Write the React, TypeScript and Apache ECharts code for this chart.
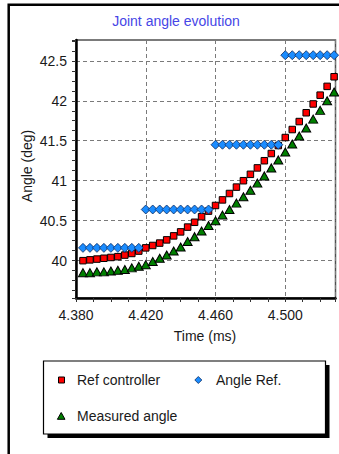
import React, { useEffect, useRef } from "react";
import * as echarts from "echarts";

// ---- data ----
const timeMs = [
  4.384, 4.388, 4.392, 4.396, 4.4, 4.404, 4.408, 4.412, 4.416,
  4.42, 4.424, 4.428, 4.432, 4.436, 4.44, 4.444, 4.448, 4.452, 4.456,
  4.46, 4.464, 4.468, 4.472, 4.476, 4.48, 4.484, 4.488, 4.492, 4.496,
  4.5, 4.504, 4.508, 4.512, 4.516, 4.52, 4.524, 4.528,
];
const refController = [
  40.0, 40.01, 40.02, 40.03, 40.04, 40.05, 40.07, 40.09, 40.12,
  40.16, 40.19, 40.22, 40.26, 40.31, 40.36, 40.42, 40.48, 40.55, 40.62,
  40.69, 40.76, 40.84, 40.92, 41.0, 41.08, 41.16, 41.25, 41.34, 41.44,
  41.54, 41.64, 41.74, 41.85, 41.96, 42.07, 42.18, 42.3,
];
const angleRef = [
  40.16, 40.16, 40.16, 40.16, 40.16, 40.16, 40.16, 40.16, 40.16,
  40.64, 40.64, 40.64, 40.64, 40.64, 40.64, 40.64, 40.64, 40.64, 40.64,
  41.45, 41.45, 41.45, 41.45, 41.45, 41.45, 41.45, 41.45, 41.45, 41.45,
  42.57, 42.57, 42.57, 42.57, 42.57, 42.57, 42.57, 42.57,
];
const measuredAngle = [
  39.85, 39.85, 39.86, 39.86, 39.87, 39.88, 39.89, 39.91, 39.93,
  39.95, 39.99, 40.03, 40.07, 40.12, 40.17, 40.24, 40.3, 40.37, 40.44,
  40.5, 40.57, 40.64, 40.72, 40.8, 40.88, 40.97, 41.06, 41.16, 41.26,
  41.36, 41.46, 41.56, 41.66, 41.77, 41.88, 42.0, 42.11,
];
const seriesNames = ["Ref controller", "Angle Ref.", "Measured angle"];
const titleText = "Joint angle evolution";
const xAxisName = "Time (ms)";
const yAxisName = "Angle (deg)";
const xStart = 4.38; // first x tick label
const xEnd = 4.5288;
const xTickStep = 0.04;
const yMin = 39.533;
const yMax = 42.76;

const FONT = "'Liberation Sans', Arial, sans-serif";
const RED = "#ff0000";
const BLUE = "#1a8cff";
const GREEN = "#008000";

export default function App() {
  const ref = useRef<HTMLDivElement>(null);
  useEffect(() => {
    if (!ref.current) return;
    const chart = echarts.init(ref.current, undefined, { renderer: "svg" });
    const toPts = (vals: number[]) => timeMs.map((t, i) => [t - xStart, vals[i]]);
    chart.setOption({
      animation: false,
      backgroundColor: "#ffffff",
      grid: {
        left: 76,
        right: 3.5,
        top: 40,
        bottom: 156,
        show: true,
        borderColor: "#505050",
        borderWidth: 1.5,
        backgroundColor: "transparent",
      },
      xAxis: {
        type: "value",
        min: 0,
        max: xEnd - xStart,
        interval: xTickStep,
        axisLine: { show: true, onZero: false, lineStyle: { color: "#000", width: 2.5 } },
        axisTick: { show: true, length: 4, lineStyle: { color: "#333" } },
        minorTick: { show: true, splitNumber: 4, length: 4, lineStyle: { color: "#333" } },
        axisLabel: {
          showMaxLabel: false,
          margin: 10,
          color: "#1a1a1a",
          fontSize: 14,
          fontFamily: FONT,
          formatter: (v: number) => (v + xStart).toFixed(3),
        },
        splitLine: { show: true, lineStyle: { color: "#7a7a7a", type: [4, 3], width: 1 } },
      },
      yAxis: {
        type: "value",
        min: yMin,
        max: yMax,
        splitNumber: 5,
        axisLine: { show: true, onZero: false, lineStyle: { color: "#000", width: 2.5 } },
        axisTick: { show: true, length: 4, lineStyle: { color: "#333" } },
        minorTick: { show: true, splitNumber: 4, length: 4, lineStyle: { color: "#333" } },
        axisLabel: {
          showMinLabel: false,
          showMaxLabel: false,
          margin: 9,
          color: "#1a1a1a",
          fontSize: 14,
          fontFamily: FONT,
          formatter: (v: number) => String(Math.round(v * 10) / 10),
        },
        splitLine: { show: true, lineStyle: { color: "#7a7a7a", type: [4, 3], width: 1 } },
      },
      series: [
        {
          type: "scatter",
          name: seriesNames[0],
          symbol: "rect",
          symbolSize: 6.5,
          itemStyle: { color: RED, borderColor: "#000", borderWidth: 1, opacity: 1 },
          data: toPts(refController),
          z: 3,
        },
        {
          type: "scatter",
          name: seriesNames[1],
          symbol: "diamond",
          symbolSize: [9, 9],
          itemStyle: { color: BLUE, borderColor: "#0a2a60", borderWidth: 0.8, opacity: 1 },
          data: toPts(angleRef),
          z: 4,
        },
        {
          type: "scatter",
          name: seriesNames[2],
          symbol: "triangle",
          symbolSize: [9, 8],
          itemStyle: { color: GREEN, borderColor: "#000", borderWidth: 1, opacity: 1 },
          data: toPts(measuredAngle),
          z: 3,
        },
      ],
      graphic: [
        {
          type: "rect",
          shape: { x: 8.7, y: 4.7, width: 400, height: 500 },
          style: { fill: "none", stroke: "#000", lineWidth: 2.5 },
          silent: true,
        },
        {
          type: "text",
          x: 176,
          y: 21,
          style: {
            text: titleText,
            fill: "#4646e6",
            font: `14px ${FONT}`,
            textAlign: "center",
            textVerticalAlign: "middle",
          },
        },
        {
          type: "text",
          x: 205,
          y: 336,
          style: {
            text: xAxisName,
            fill: "#1a1a1a",
            font: `14px ${FONT}`,
            textAlign: "center",
            textVerticalAlign: "middle",
          },
        },
        {
          type: "text",
          x: 27,
          y: 166,
          rotation: Math.PI / 2,
          style: {
            text: yAxisName,
            fill: "#1a1a1a",
            font: `14px ${FONT}`,
            textAlign: "center",
            textVerticalAlign: "middle",
          },
        },
        // legend box with shadow
        {
          type: "rect",
          shape: { x: 47.5, y: 365, width: 282, height: 73 },
          style: { fill: "#000" },
          silent: true,
        },
        {
          type: "rect",
          shape: { x: 43.5, y: 361, width: 282, height: 73 },
          style: { fill: "#fff", stroke: "#000", lineWidth: 1.2 },
          silent: true,
        },
        {
          type: "rect",
          shape: { x: 58.5, y: 377, width: 6, height: 6 },
          style: { fill: RED, stroke: "#000", lineWidth: 1 },
        },
        {
          type: "text",
          x: 77,
          y: 380,
          style: { text: seriesNames[0], fill: "#1a1a1a", font: `14px ${FONT}`, textVerticalAlign: "middle" },
        },
        {
          type: "polygon",
          shape: { points: [[198.3, 376.5], [201.8, 380], [198.3, 383.5], [194.8, 380]] },
          style: { fill: BLUE, stroke: "#0a2a60", lineWidth: 0.8 },
        },
        {
          type: "text",
          x: 216,
          y: 380,
          style: { text: seriesNames[1], fill: "#1a1a1a", font: `14px ${FONT}`, textVerticalAlign: "middle" },
        },
        {
          type: "polygon",
          shape: { points: [[61.2, 412.5], [65, 419.3], [57.4, 419.3]] },
          style: { fill: GREEN, stroke: "#000", lineWidth: 1 },
        },
        {
          type: "text",
          x: 77,
          y: 416,
          style: { text: seriesNames[2], fill: "#1a1a1a", font: `14px ${FONT}`, textVerticalAlign: "middle" },
        },
      ],
    });
    return () => chart.dispose();
  }, []);
  return (
    <div
      ref={ref}
      style={{ position: "absolute", left: 0, top: 0, width: 339, height: 454 }}
    />
  );
}
